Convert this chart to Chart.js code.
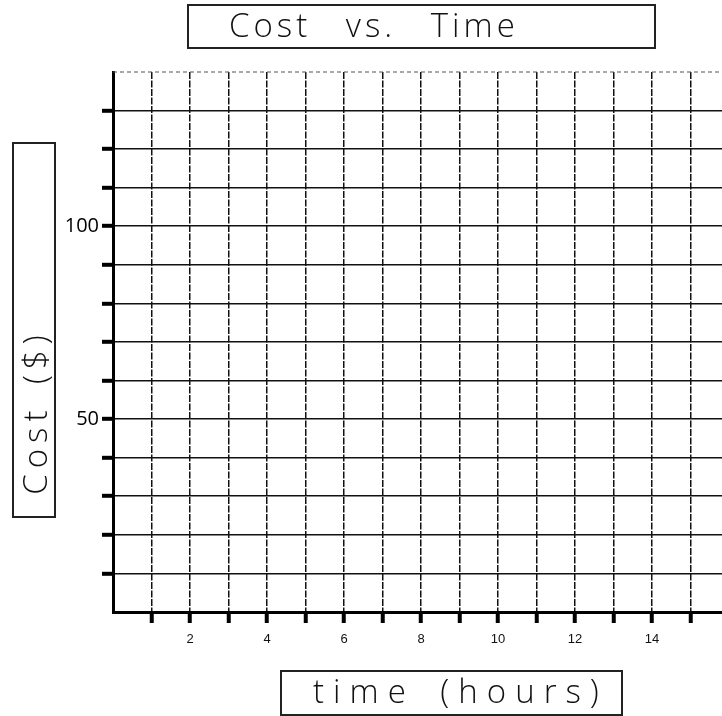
<!DOCTYPE html>
<html>
<head>
<meta charset="utf-8">
<title>Cost vs. Time</title>
<script src="https://cdn.jsdelivr.net/npm/chart.js@4.4.1/dist/chart.umd.min.js"></script>
<style>
  html, body { margin: 0; padding: 0; background: #fff; overflow: hidden; }
  #wrap { position: relative; width: 740px; height: 716px; }
  .box {
    position: absolute; border: 2px solid #222; box-sizing: border-box;
    font-family: "Open Sans", "Noto Sans", sans-serif; font-weight: 300;
    color: #111; white-space: nowrap;
  }
  #titleBox { left: 187px; top: 4px; width: 469px; height: 45px; }
  #titleBox span { position: absolute; left: 40px; top: -4px; font-size: 33px; letter-spacing: 4px; word-spacing: 22px; }
  #yBox { left: 12px; top: 142px; width: 44px; height: 376px; }
  #yBox span { position: absolute; left: 20px; top: 268px; font-size: 33px; letter-spacing: 6px; word-spacing: 6px;
    transform: translate(-50%, -50%) rotate(-90deg); }
  #xBox { left: 280px; top: 670px; width: 343px; height: 46px; }
  #xBox span { position: absolute; left: 31px; top: -4px; font-size: 33px; letter-spacing: 9px; word-spacing: 8px; }
</style>
</head>
<body>
<div id="wrap">
  <canvas id="chart"></canvas>
  <div class="box" id="titleBox"><span>Cost vs. Time</span></div>
  <div class="box" id="yBox"><span>Cost ($)</span></div>
  <div class="box" id="xBox"><span>time (hours)</span></div>
</div>
<script>
// axis ranges and tick labels
const timeRange = [0, 16];
const timeStep = 1;
const timeLabels = [2, 4, 6, 8, 10, 12, 14];
const costRange = [0, 140];
const costStep = 10;
const costLabels = [50, 100];

// nothing has been plotted on the sheet yet
const timeHours = [];
const costDollars = [];

const topEdge = {
    id: "topEdge",
    afterDraw(chart) {
        const { ctx, chartArea, scales } = chart;
        const y = scales.y.getPixelForValue(costRange[1]);
        ctx.save();
        ctx.strokeStyle = "#555";
        ctx.lineWidth = 1.2;
        ctx.setLineDash([4, 3]);
        ctx.beginPath();
        ctx.moveTo(chartArea.left, y);
        ctx.lineTo(chartArea.right, y);
        ctx.stroke();
        ctx.restore();
    }
};

new Chart(document.getElementById("chart"), {
    type: "scatter",
    data: {
        datasets: [{
            label: "Cost",
            data: timeHours.map((t, i) => ({ x: t, y: costDollars[i] })),
            borderColor: "#000",
            backgroundColor: "#000"
        }]
    },
    options: {
        responsive: true,
        maintainAspectRatio: false,
        animation: false,
        layout: { padding: { top: 72, right: 11, left: 0, bottom: 0 } },
        plugins: {
            legend: { display: false },
            tooltip: { enabled: false }
        },
        scales: {
            x: {
                type: "linear",
                min: timeRange[0],
                max: timeRange[1],
                afterFit: (scale) => { scale.height = 104; },
                ticks: {
                    stepSize: timeStep,
                    autoSkip: false,
                    maxRotation: 0,
                    padding: 9,
                    color: "#111",
                    font: { family: "Liberation Sans", size: 13 },
                    callback: (v) => timeLabels.includes(v) ? String(v) : ""
                },
                grid: {
                    color: "#111",
                    lineWidth: 1.5,
                    tickLength: 11,
                    tickWidth: 4,
                    tickColor: (c) => (c.tick && c.tick.value > timeRange[0] && c.tick.value < timeRange[1]) ? "#000" : "rgba(0,0,0,0)"
                },
                border: { display: true, color: "#000", width: 3, dash: [7, 1.5] }
            },
            y: {
                type: "linear",
                min: costRange[0],
                max: costRange[1],
                afterFit: (scale) => { scale.width = 113; },
                ticks: {
                    stepSize: costStep,
                    autoSkip: false,
                    padding: 3,
                    color: "#000",
                    font: { family: "Open Sans", size: 20 },
                    callback: (v) => costLabels.includes(v) ? String(v) : ""
                },
                grid: {
                    color: (c) => (c.tick && c.tick.value === costRange[1]) ? "rgba(0,0,0,0)" : "#111",
                    lineWidth: 1.6,
                    tickLength: 11,
                    tickWidth: 4,
                    tickColor: (c) => (c.tick && c.tick.value > costRange[0] && c.tick.value < costRange[1]) ? "#000" : "rgba(0,0,0,0)"
                },
                border: { display: true, color: "#000", width: 3 }
            }
        }
    },
    plugins: [topEdge]
});
</script>
</body>
</html>
